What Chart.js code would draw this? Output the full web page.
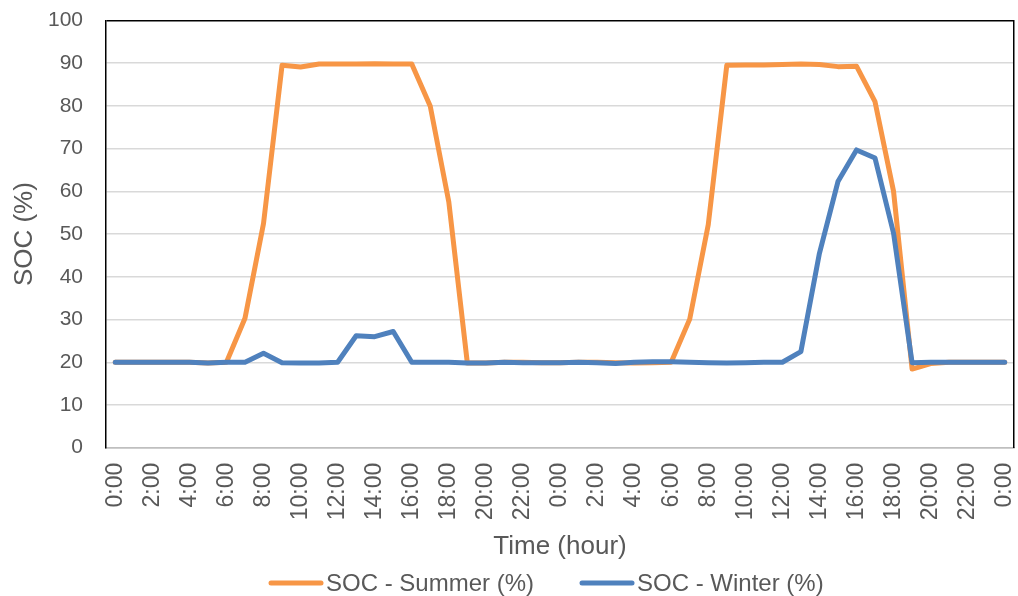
<!DOCTYPE html>
<html>
<head>
<meta charset="utf-8">
<script src="https://cdn.jsdelivr.net/npm/chart.js@4"></script>
<style>
  html, body { margin: 0; padding: 0; background: #ffffff; }
  #wrap { position: relative; width: 1018px; height: 596px; }
</style>
</head>
<body>
<div id="wrap"><canvas id="soc"></canvas></div>
<script>
// Hourly time stamps over two days
const timeLabels = [
  '0:00','1:00','2:00','3:00','4:00','5:00','6:00','7:00','8:00','9:00','10:00','11:00',
  '12:00','13:00','14:00','15:00','16:00','17:00','18:00','19:00','20:00','21:00','22:00','23:00',
  '0:00','1:00','2:00','3:00','4:00','5:00','6:00','7:00','8:00','9:00','10:00','11:00',
  '12:00','13:00','14:00','15:00','16:00','17:00','18:00','19:00','20:00','21:00','22:00','23:00',
  '0:00'
];

// Battery state of charge, percent
const socSummer = [
  20, 20, 20, 20, 20, 19.8, 20, 30.3, 52.5, 89.5, 89.1, 89.8,
  89.8, 89.8, 89.9, 89.8, 89.8, 79.9, 57.5, 19.8, 19.8, 20, 20, 19.9,
  19.9, 20, 20, 19.9, 19.8, 19.9, 20, 30.1, 52.2, 89.5, 89.6, 89.6,
  89.7, 89.8, 89.7, 89.2, 89.3, 81.0, 60.0, 18.4, 19.7, 20, 20, 20,
  20
];
const socWinter = [
  20, 20, 20, 20, 20, 19.8, 20, 20, 22.1, 19.9, 19.8, 19.8,
  20, 26.2, 26.0, 27.2, 20, 20, 20, 19.8, 19.8, 20, 19.9, 19.9,
  19.9, 20, 19.9, 19.7, 20, 20.1, 20.1, 20, 19.9, 19.8, 19.9, 20,
  20, 22.5, 45.5, 62.3, 69.7, 67.8, 50.2, 19.9, 20, 20, 20, 20,
  20
];

const seriesNames = ['SOC - Summer (%)', 'SOC - Winter (%)'];
const seriesColors = ['#F79646', '#4F81BD'];

const FONT = "'Liberation Sans', Arial, sans-serif";
const TEXT = '#595959';

// Legend drawn as a short line sample followed by the series name
const lineLegend = {
  id: 'lineLegend',
  afterDraw(chart) {
    const ctx = chart.ctx;
    ctx.save();
    ctx.font = '24px ' + FONT;
    ctx.textBaseline = 'middle';
    ctx.textAlign = 'left';
    let x = 269;
    const y = 583;
    chart.data.datasets.forEach((ds) => {
      ctx.strokeStyle = ds.borderColor;
      ctx.lineWidth = 5;
      ctx.lineCap = 'round';
      ctx.beginPath();
      ctx.moveTo(x + 2, y);
      ctx.lineTo(x + 52, y);
      ctx.stroke();
      ctx.fillStyle = TEXT;
      ctx.fillText(ds.label, x + 57, y + 1);
      x += 57 + ctx.measureText(ds.label).width + 46;
    });
    ctx.restore();
  }
};

// Keep the plot box fixed: no extra room for overhanging tick labels
function noOverhang(scale) {
  scale.paddingTop = 0;
  scale.paddingBottom = 0;
  scale.paddingLeft = 0;
  scale.paddingRight = 0;
}

new Chart(document.getElementById('soc'), {
  type: 'line',
  data: {
    labels: timeLabels,
    datasets: [
      {
        label: seriesNames[0],
        data: socSummer,
        borderColor: seriesColors[0],
        backgroundColor: seriesColors[0],
        borderWidth: 5,
        pointRadius: 0,
        tension: 0,
        borderCapStyle: 'round',
        borderJoinStyle: 'round',
        order: 1
      },
      {
        label: seriesNames[1],
        data: socWinter,
        borderColor: seriesColors[1],
        backgroundColor: seriesColors[1],
        borderWidth: 5,
        pointRadius: 0,
        tension: 0,
        borderCapStyle: 'round',
        borderJoinStyle: 'round',
        order: 0
      }
    ]
  },
  options: {
    responsive: true,
    maintainAspectRatio: false,
    animation: false,
    devicePixelRatio: 1,
    layout: { padding: { left: 0, right: 0, top: 20.5, bottom: 34 } },
    plugins: {
      legend: { display: false },
      tooltip: { enabled: false }
    },
    scales: {
      x: {
        type: 'category',
        offset: true,
        grid: { display: false, drawTicks: false },
        border: { display: true, color: '#BFBFBF', width: 1.5 },
        ticks: {
          autoSkip: false,
          minRotation: 90,
          maxRotation: 90,
          padding: 15,
          color: TEXT,
          font: { family: FONT, size: 23 },
          callback: function (value, index) {
            return index % 2 === 0 ? this.getLabelForValue(value) : '';
          }
        },
        title: {
          display: true,
          text: 'Time (hour)',
          color: TEXT,
          font: { family: FONT, size: 26 },
          padding: { top: 0, bottom: 0 }
        },
        afterFit(scale) {
          scale.height = 114.3;
          noOverhang(scale);
        }
      },
      y: {
        min: 0,
        max: 100,
        ticks: {
          stepSize: 10,
          padding: 23,
          color: TEXT,
          font: { family: FONT, size: 21 }
        },
        grid: {
          drawTicks: false,
          lineWidth: 1.5,
          color: (c) => (c.tick && c.tick.value === 100) ? '#000000'
                       : (c.tick && c.tick.value === 0) ? '#BFBFBF' : '#D9D9D9'
        },
        border: { display: true, color: '#000000', width: 1.5 },
        title: {
          display: true,
          text: 'SOC (%)',
          color: TEXT,
          font: { family: FONT, size: 26 },
          padding: { top: 9, bottom: 0 }
        },
        afterFit(scale) {
          scale.width = 106;
          noOverhang(scale);
        }
      },
      yRight: {
        position: 'right',
        min: 0,
        max: 100,
        ticks: { display: false },
        grid: { drawOnChartArea: false, drawTicks: false },
        border: { display: true, color: '#000000', width: 1.5 },
        afterFit(scale) {
          scale.width = 4;
          noOverhang(scale);
        }
      }
    }
  },
  plugins: [lineLegend]
});
</script>
</body>
</html>
